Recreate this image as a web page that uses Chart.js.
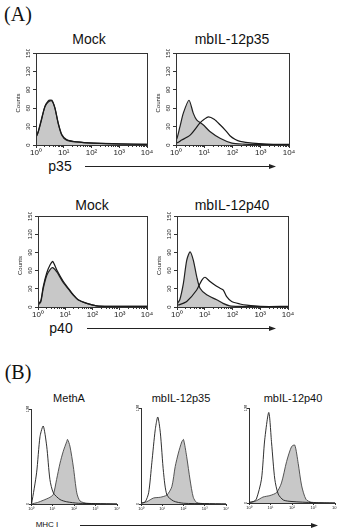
<!DOCTYPE html>
<html>
<head>
<meta charset="utf-8">
<script src="https://cdn.jsdelivr.net/npm/chart.js@4.4.1/dist/chart.umd.min.js"></script>
<style>
  html, body { margin: 0; padding: 0; background: #fff; }
  #page { position: relative; width: 337px; height: 530px; overflow: hidden; font-family: "Liberation Sans", Arial, sans-serif; color: #111; }
  #page canvas { position: absolute; }
  .lbl { position: absolute; white-space: nowrap; transform: translate(-50%, -50%); line-height: 1; }
  .panel { font-family: "Liberation Serif", "Times New Roman", serif; font-size: 20px; }
  svg.arrows { position: absolute; left: 0; top: 0; }
</style>
</head>
<body>
<div id="page">
  <div class="lbl panel" style="left:18px;top:14px;">(A)</div>
  <div class="lbl panel" style="left:18px;top:372px;">(B)</div>

  <div class="lbl" style="left:89px;top:39px;font-size:14px;">Mock</div>
  <div class="lbl" style="left:232px;top:39px;font-size:14px;">mbIL-12p35</div>
  <div class="lbl" style="left:60px;top:166px;font-size:14px;">p35</div>

  <div class="lbl" style="left:92px;top:205px;font-size:14px;">Mock</div>
  <div class="lbl" style="left:232px;top:205px;font-size:14px;">mbIL-12p40</div>
  <div class="lbl" style="left:61px;top:328px;font-size:14px;">p40</div>

  <div class="lbl" style="left:69px;top:398px;font-size:11px;">MethA</div>
  <div class="lbl" style="left:181px;top:398px;font-size:11px;">mbIL-12p35</div>
  <div class="lbl" style="left:293px;top:398px;font-size:11px;">mbIL-12p40</div>
  <div class="lbl" style="left:47px;top:525px;font-size:8px;">MHC I</div>

  <svg class="arrows" width="337" height="530">
    <g stroke="#222" stroke-width="1" fill="#222">
      <line x1="85" y1="166.5" x2="272" y2="166.5"/>
      <polygon points="276,166.5 269,164 269,169" stroke="none"/>
      <line x1="87" y1="328.5" x2="272" y2="328.5"/>
      <polygon points="276,328.5 269,326 269,331" stroke="none"/>
      <line x1="80" y1="525.5" x2="314" y2="525.5"/>
      <polygon points="318,525.5 311,523 311,528" stroke="none"/>
    </g>
  </svg>

  <canvas id="a1"></canvas>
  <canvas id="a2"></canvas>
  <canvas id="a3"></canvas>
  <canvas id="a4"></canvas>
  <canvas id="b1"></canvas>
  <canvas id="b2"></canvas>
  <canvas id="b3"></canvas>
</div>

<script>
// x positions are in log10 units of fluorescence (0 = 10^0 ... 4 = 10^4)

// (A) Mock, p35 staining
const mockP35CtrlX  = [0, 0.02, 0.08, 0.2, 0.32, 0.44, 0.57, 0.68, 0.8, 0.93, 1.1, 1.47, 2.07, 3.03, 4.0];
const mockP35CtrlY  = [75, 16, 22, 43, 62, 72, 73, 60, 35, 16, 8, 5, 3, 1.5, 1];
const mockP35StainX = [0, 0.02, 0.08, 0.2, 0.32, 0.44, 0.57, 0.68, 0.8, 0.93, 1.1, 1.47, 2.07, 3.03, 4.0];
const mockP35StainY = [72, 15, 21, 41, 63, 70, 72, 61, 36, 17, 9, 5, 3, 2, 1];

// (A) mbIL-12p35, p35 staining
const p35CtrlX  = [0, 0.02, 0.14, 0.26, 0.46, 0.61, 0.73, 0.96, 1.2, 1.56, 1.98, 2.4, 3.0, 4.0];
const p35CtrlY  = [76, 10, 30, 52, 73, 52, 41, 33, 22, 11, 3, 1.5, 1, 0.5];
const p35StainX = [0, 0.02, 0.2, 0.5, 0.85, 1.0, 1.15, 1.35, 1.56, 1.75, 1.91, 2.1, 2.27, 2.7, 3.2, 4.0];
const p35StainY = [60, 4, 8, 16, 36, 42, 46, 42, 33, 24, 15, 9, 6, 3, 1.5, 1];

// (A) Mock, p40 staining
const mockP40CtrlX  = [0, 0.1, 0.19, 0.32, 0.45, 0.54, 0.69, 0.93, 1.11, 1.3, 1.47, 1.79, 2.15, 2.6, 3.2, 4.0];
const mockP40CtrlY  = [3, 8, 30, 52, 62, 65, 58, 40, 30, 19, 12, 6, 2, 1, 1, 1];
const mockP40StainX = [0, 0.1, 0.19, 0.32, 0.45, 0.54, 0.69, 0.93, 1.11, 1.3, 1.47, 1.79, 2.15, 2.6, 3.2, 4.0];
const mockP40StainY = [5, 10, 33, 56, 70, 75, 61, 42, 31, 20, 12, 6, 2, 1, 1, 1];

// (A) mbIL-12p40, p40 staining
const p40CtrlX  = [0, 0.1, 0.23, 0.35, 0.47, 0.59, 0.71, 0.83, 1.07, 1.43, 1.66, 1.9, 2.3, 3.0, 4.0];
const p40CtrlY  = [5, 12, 39, 77, 91, 77, 50, 31, 20, 12, 6, 2, 1, 0.5, 0.5];
const p40StainX = [0, 0.1, 0.35, 0.71, 0.89, 1.01, 1.19, 1.4, 1.55, 1.67, 1.79, 1.97, 2.27, 2.51, 3.0, 4.0];
const p40StainY = [3, 4, 9, 28, 44, 49, 42, 35, 31, 28, 17, 9, 5, 3, 1, 1];

// (B) MHC I
const methaCtrlX  = [0, 0.03, 0.26, 0.42, 0.57, 0.73, 0.88, 1.04, 1.35, 1.66, 2.2, 3.0, 4.0];
const methaCtrlY  = [2, 1, 42, 91, 105, 78, 33, 15, 6, 3, 1, 0.5, 0];
const methaMhcX   = [0, 0.3, 0.57, 0.88, 1.04, 1.19, 1.35, 1.5, 1.66, 1.7, 1.81, 1.97, 2.13, 2.28, 2.6, 4.0];
const methaMhcY   = [0, 2, 5, 9, 13, 33, 55, 71, 84, 87, 78, 50, 15, 4, 1, 0];

const mhcP35CtrlX = [0, 0.2, 0.36, 0.51, 0.67, 0.79, 0.91, 1.06, 1.22, 1.53, 2.0, 3.0, 4.0];
const mhcP35CtrlY = [1, 3, 15, 55, 99, 116, 95, 42, 12, 4, 1, 0.5, 0];
const mhcP35X     = [0, 0.27, 0.59, 0.91, 1.22, 1.45, 1.61, 1.76, 1.92, 2.0, 2.15, 2.31, 2.46, 2.62, 3.0, 4.0];
const mhcP35Y     = [1, 3, 8, 9, 12, 23, 50, 68, 83, 86, 63, 32, 9, 2, 0.5, 0];

const mhcP40CtrlX = [0, 0.2, 0.34, 0.58, 0.73, 0.92, 1.05, 1.2, 1.36, 1.6, 2.0, 3.0, 4.0];
const mhcP40CtrlY = [1, 2, 5, 32, 85, 122, 81, 32, 12, 4, 2, 0.5, 0];
const mhcP40X     = [0, 0.34, 0.65, 0.97, 1.28, 1.51, 1.75, 1.98, 2.13, 2.29, 2.45, 2.65, 2.9, 4.0];
const mhcP40Y     = [0, 3, 8, 10, 14, 27, 56, 76, 78, 53, 23, 5, 1, 0];

// axis tick labels
const decadeLabels = ['10\u2070', '10\u00b9', '10\u00b2', '10\u00b3', '10\u2074'];
const countTicksA = [0, 30, 60, 90, 120, 150];
const countTicksB = [0, 128];

const pts = (xs, ys) => xs.map((x, i) => ({ x: x, y: ys[i] }));

// draws box, minor log ticks, rotated count labels
const histDecor = {
  id: 'histDecor',
  afterDraw(chart, args, o) {
    const { ctx, chartArea: a, scales } = chart;
    const xs = scales.x, ys = scales.y;
    ctx.save();
    ctx.strokeStyle = '#333';
    ctx.lineWidth = 1;
    if (o.box) {
      ctx.strokeRect(Math.round(a.left) + 0.5, Math.round(a.top) + 0.5,
        Math.round(a.right - a.left), Math.round(a.bottom - a.top));
    }
    // minor ticks between decades
    ctx.beginPath();
    for (let d = 0; d < 4; d++) {
      for (let k = 2; k <= 9; k++) {
        const px = Math.round(xs.getPixelForValue(d + Math.log10(k))) + 0.5;
        ctx.moveTo(px, a.bottom);
        ctx.lineTo(px, a.bottom + o.minorLen);
      }
    }
    ctx.stroke();
    // rotated count tick labels
    ctx.fillStyle = '#222';
    ctx.font = o.yFont + 'px "Liberation Sans", Arial, sans-serif';
    ctx.textAlign = 'center';
    ctx.textBaseline = 'middle';
    o.yTicks.forEach(v => {
      const py = ys.getPixelForValue(v);
      ctx.save();
      ctx.translate(a.left - o.yLabelGap, py);
      ctx.rotate(-Math.PI / 2);
      ctx.fillText(String(v), 0, 0);
      ctx.restore();
    });
    if (o.title) {
      ctx.save();
      ctx.translate(a.left - o.titleGap, (a.top + a.bottom) / 2 + 4);
      ctx.rotate(-Math.PI / 2);
      ctx.fillText(o.title, 0, 0);
      ctx.restore();
    }
    ctx.restore();
  }
};

function makeHist(id, p) {
  const cv = document.getElementById(id);
  const W = p.w + p.padL + p.padR, H = p.h + p.padT + p.padB;
  cv.width = W; cv.height = H;
  cv.style.left = (p.left - p.padL) + 'px';
  cv.style.top = (p.top - p.padT) + 'px';
  cv.style.width = W + 'px';
  cv.style.height = H + 'px';

  new Chart(cv, {
    type: 'line',
    data: {
      datasets: [{
        data: pts(p.stainX, p.stainY),
        borderColor: '#1a1a1a',
        borderWidth: p.lineW,
        fill: false,
        pointRadius: 0,
        tension: 0.25,
        order: 0
      }, {
        data: pts(p.ctrlX, p.ctrlY),
        borderColor: p.fillEdge,
        backgroundColor: '#c8c8c8',
        borderWidth: p.lineW,
        fill: 'origin',
        pointRadius: 0,
        tension: 0.25,
        order: 1
      }]
    },
    options: {
      responsive: false,
      animation: false,
      devicePixelRatio: 1,
      layout: { padding: { top: p.padT, right: p.padR, left: 0, bottom: 0 } },
      plugins: {
        legend: { display: false },
        tooltip: { enabled: false },
        histDecor: {
          box: p.box, yTicks: p.yTicks, yFont: p.yFont, yLabelGap: p.yLabelGap,
          title: p.yTitle, titleGap: p.titleGap, minorLen: p.minorLen
        }
      },
      scales: {
        x: {
          type: 'linear', min: 0, max: 4,
          afterFit: s => { s.height = p.padB; },
          grid: { display: true, drawOnChartArea: false, drawTicks: true, tickLength: p.tickLen, color: '#333' },
          border: { display: true, color: '#333', width: 1 },
          ticks: {
            stepSize: 1, padding: 0, maxRotation: 0, autoSkip: false,
            color: '#222',
            font: { size: p.xFont, family: '"Liberation Sans", Arial, sans-serif' },
            callback: v => decadeLabels[v]
          }
        },
        y: {
          min: 0, max: p.yMax,
          afterFit: s => { s.width = p.padL; },
          afterBuildTicks: s => { s.ticks = p.yTicks.map(v => ({ value: v })); },
          grid: { display: true, drawOnChartArea: false, drawTicks: true, tickLength: p.tickLen, color: '#333' },
          border: { display: true, color: '#333', width: 1 },
          ticks: { display: false }
        }
      }
    },
    plugins: [histDecor]
  });
}

const styleA = { box: true, yMax: 150, yTicks: countTicksA, yFont: 6, yLabelGap: 8, yTitle: 'Counts', titleGap: 18,
  xFont: 8, tickLen: 3, minorLen: 2, lineW: 1.2, fillEdge: '#222', padL: 30, padT: 4, padR: 10, padB: 14 };
const styleB = { box: false, yMax: 128, yTicks: countTicksB, yFont: 4, yLabelGap: 3, yTitle: null, titleGap: 0,
  xFont: 4, tickLen: 2, minorLen: 0, lineW: 0.9, fillEdge: '#444', padL: 8, padT: 4, padR: 5, padB: 8 };

makeHist('a1', Object.assign({}, styleA, { left: 36, top: 53, w: 111, h: 92,
  ctrlX: mockP35CtrlX, ctrlY: mockP35CtrlY, stainX: mockP35StainX, stainY: mockP35StainY }));
makeHist('a2', Object.assign({}, styleA, { left: 176, top: 53, w: 113, h: 92,
  ctrlX: p35CtrlX, ctrlY: p35CtrlY, stainX: p35StainX, stainY: p35StainY }));
makeHist('a3', Object.assign({}, styleA, { left: 38, top: 216, w: 109, h: 91,
  ctrlX: mockP40CtrlX, ctrlY: mockP40CtrlY, stainX: mockP40StainX, stainY: mockP40StainY }));
makeHist('a4', Object.assign({}, styleA, { left: 177, top: 216, w: 111, h: 91,
  ctrlX: p40CtrlX, ctrlY: p40CtrlY, stainX: p40StainX, stainY: p40StainY }));

// in (B) the filled histogram is the MHC I stain, the open one the control
makeHist('b1', Object.assign({}, styleB, { left: 31, top: 409, w: 86, h: 95,
  ctrlX: methaMhcX, ctrlY: methaMhcY, stainX: methaCtrlX, stainY: methaCtrlY }));
makeHist('b2', Object.assign({}, styleB, { left: 141, top: 408, w: 85, h: 96,
  ctrlX: mhcP35X, ctrlY: mhcP35Y, stainX: mhcP35CtrlX, stainY: mhcP35CtrlY }));
makeHist('b3', Object.assign({}, styleB, { left: 249, top: 408, w: 86, h: 95,
  ctrlX: mhcP40X, ctrlY: mhcP40Y, stainX: mhcP40CtrlX, stainY: mhcP40CtrlY }));
</script>
</body>
</html>
